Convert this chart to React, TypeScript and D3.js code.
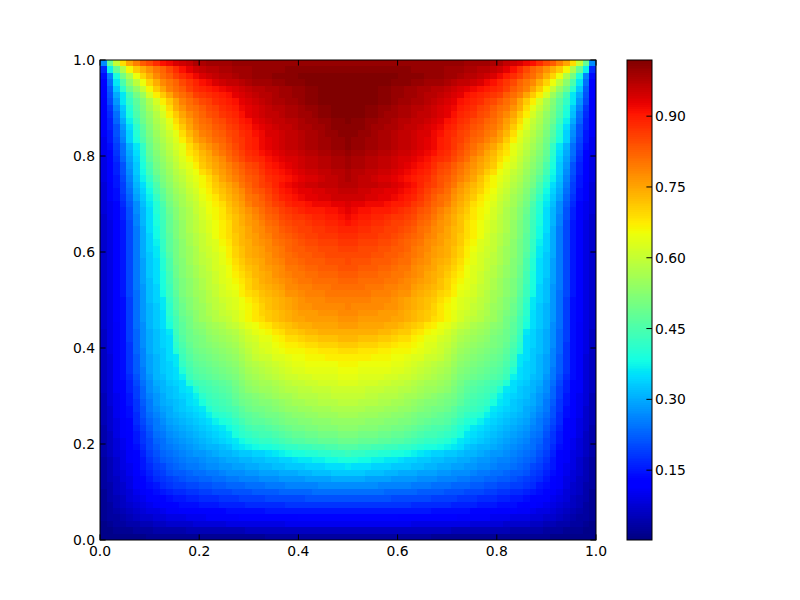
import React from 'react';
import * as d3 from 'd3';

// values, in hundredths. top row first, left half of the
// field only (columns 0..37 of 75), the right half is the same picture mirrored
const halfRows: number[][] = [
  [27,48,60,69,75,79,83,85,88,91,92,94,95,96,98,98,99,99,99,99,100,100,100,100,100,100,100,100,100,100,100,100,100,100,100,100,100,100],
  [17,37,48,57,66,71,74,77,80,82,85,88,91,93,95,96,97,97,98,98,99,99,99,100,100,100,100,100,101,101,101,101,101,101,101,101,101,101],
  [14,26,39,50,57,65,70,74,78,81,83,86,88,90,92,94,95,96,97,97,98,99,99,100,100,100,101,101,101,101,102,102,102,102,102,102,102,102],
  [13,24,36,45,53,59,65,70,74,78,80,82,85,87,89,91,92,94,95,96,96,97,98,99,99,99,100,100,101,101,101,102,102,102,102,102,102,102],
  [12,22,33,41,49,54,60,66,71,75,79,81,83,86,88,89,90,91,92,93,94,95,96,97,97,98,98,99,99,100,100,101,101,102,102,102,102,102],
  [12,21,30,36,44,50,55,62,67,71,75,79,81,83,86,87,88,89,90,91,93,94,95,96,97,97,98,99,99,100,100,101,101,102,102,102,102,102],
  [11,20,28,36,42,47,52,57,62,67,71,75,79,81,83,85,86,88,89,90,91,93,94,95,96,97,98,98,99,99,100,101,101,102,102,102,102,102],
  [11,18,26,33,40,46,51,56,60,64,69,74,77,80,81,83,85,86,88,89,90,92,93,94,95,96,97,97,98,98,99,100,100,101,101,102,102,102],
  [11,17,24,32,39,45,50,54,58,62,67,71,75,78,80,82,84,85,87,88,89,91,93,94,95,96,96,97,98,98,99,99,100,101,101,102,102,102],
  [11,16,23,30,37,43,49,53,57,60,64,69,73,76,79,81,82,84,85,87,88,90,91,93,94,95,96,96,97,97,98,99,99,100,100,101,101,102],
  [11,16,21,28,35,41,47,52,56,59,63,67,71,75,78,80,81,83,84,86,87,89,90,92,93,94,95,96,96,97,98,98,99,99,100,101,101,101],
  [11,15,21,27,34,40,46,51,55,58,61,64,69,73,76,79,80,82,83,85,86,88,89,91,92,94,94,95,96,96,97,98,98,99,100,100,101,101],
  [10,15,20,26,34,39,45,50,54,57,60,63,67,71,75,77,79,81,82,84,86,87,89,90,92,93,94,95,96,96,97,98,98,99,99,100,100,101],
  [10,14,19,24,31,36,42,49,53,56,59,62,64,69,72,75,77,79,81,83,85,87,89,90,92,93,94,95,96,96,97,98,98,99,99,100,100,101],
  [10,13,18,24,30,35,41,48,52,55,58,61,64,68,70,73,75,78,80,82,84,86,88,89,91,92,93,94,95,95,96,97,97,98,98,99,99,100],
  [9,13,17,23,29,34,40,47,51,54,57,60,63,66,69,72,74,76,78,81,83,85,87,88,89,91,92,93,94,94,95,96,96,97,97,98,98,99],
  [9,12,16,21,28,33,39,45,50,53,56,59,62,64,67,71,73,75,77,79,81,83,85,86,88,90,91,92,93,94,95,96,96,97,97,98,98,99],
  [9,12,16,21,27,33,38,44,49,52,55,58,60,63,65,69,71,74,76,78,80,82,84,85,87,89,90,91,92,93,94,95,95,96,96,97,97,98],
  [9,12,15,20,26,32,37,42,47,51,54,57,59,62,64,66,69,72,75,77,79,81,83,84,86,88,89,90,91,92,93,94,94,95,96,96,97,98],
  [8,11,15,19,25,31,35,40,45,50,53,56,58,61,63,66,68,71,73,75,77,80,82,84,86,87,89,91,92,93,94,95,95,96,96,96,97,97],
  [8,11,14,19,24,30,34,38,44,48,52,55,57,60,62,65,67,70,72,74,76,78,81,83,84,86,88,90,91,92,93,93,94,94,95,95,96,96],
  [8,11,14,18,23,29,33,37,42,47,51,54,56,59,61,64,66,68,71,73,75,77,80,81,83,85,87,89,90,91,92,93,93,94,94,95,95,95],
  [8,10,13,17,22,27,32,36,40,45,50,53,56,58,60,63,65,67,69,72,74,76,79,81,82,84,86,87,89,90,90,91,92,92,92,93,93,94],
  [8,10,13,16,21,27,31,35,40,44,49,52,55,57,60,62,65,66,68,71,73,75,77,79,81,83,84,86,87,88,89,90,90,90,91,91,92,93],
  [7,10,13,16,21,26,31,35,39,44,48,52,55,57,59,62,64,66,68,70,72,74,76,78,80,82,83,85,86,87,87,88,89,89,90,90,91,92],
  [7,9,12,15,20,26,31,35,39,43,48,51,54,57,59,61,63,65,67,69,72,74,76,77,79,81,82,84,85,86,86,87,88,88,89,89,90,91],
  [7,9,12,15,20,25,30,35,38,43,48,51,54,57,59,61,63,65,67,69,72,73,75,77,78,80,81,83,84,85,86,86,87,87,88,88,89,89],
  [7,9,12,15,20,25,30,34,38,43,47,51,54,56,58,60,62,65,67,69,71,73,75,76,78,79,81,82,83,84,85,86,86,87,87,87,88,88],
  [7,9,12,15,20,25,30,34,37,42,47,50,53,56,58,60,62,63,66,68,71,73,74,76,77,78,80,81,82,83,84,85,85,86,86,86,87,87],
  [7,9,12,15,20,25,30,34,36,42,47,50,53,55,57,60,61,63,65,67,70,72,74,75,76,78,79,80,82,83,83,84,84,85,85,85,86,86],
  [7,9,12,15,20,25,30,33,36,41,46,50,53,55,57,59,61,62,64,67,70,72,74,75,76,77,79,80,81,82,83,83,84,84,85,85,85,85],
  [7,9,12,15,20,25,29,33,35,40,45,50,52,55,57,59,60,62,64,66,69,71,73,74,75,77,78,79,81,81,82,83,83,83,84,84,84,85],
  [7,9,12,15,20,25,29,33,35,40,45,49,52,54,56,58,60,62,63,65,68,70,72,73,75,76,77,78,80,80,81,82,82,83,83,83,84,84],
  [7,9,12,15,20,25,29,33,35,39,44,49,52,54,56,58,59,61,63,65,67,69,71,73,74,75,77,78,79,80,80,81,81,82,82,82,83,83],
  [7,9,12,15,20,25,29,32,35,39,44,48,51,53,55,57,59,61,63,64,66,68,70,72,74,75,76,77,78,79,80,80,81,81,81,81,82,82],
  [7,9,12,15,20,25,28,32,34,39,43,48,51,53,55,57,59,60,62,64,65,67,70,72,73,74,75,76,78,78,79,79,80,80,80,81,81,81],
  [7,9,12,15,20,24,28,32,34,38,43,47,51,53,55,56,58,60,62,63,64,67,69,70,72,73,74,75,77,77,78,79,79,79,80,80,80,80],
  [7,9,12,14,19,24,28,32,34,36,42,46,50,52,54,56,58,59,61,62,63,65,67,69,71,72,73,74,75,76,77,78,78,78,79,79,79,79],
  [7,9,12,14,19,24,28,31,33,36,41,46,49,52,54,55,57,59,60,62,63,65,66,68,70,72,73,74,75,76,77,77,78,78,78,78,78,79],
  [7,9,12,14,19,24,28,31,33,35,41,45,49,51,53,55,57,58,60,61,62,64,66,68,70,71,72,73,74,75,76,76,76,77,77,77,78,78],
  [7,9,12,14,19,24,28,31,33,35,40,44,48,50,53,55,56,58,59,60,62,64,66,68,69,71,72,73,74,75,75,76,76,76,76,76,77,77],
  [7,9,11,14,19,24,27,31,33,35,39,44,47,50,52,53,55,56,57,59,60,62,64,65,67,68,70,71,72,73,74,74,75,75,75,75,76,76],
  [6,9,11,14,19,23,27,30,32,34,36,43,47,49,51,52,54,55,56,57,58,60,62,64,65,66,68,69,71,71,72,73,73,74,74,74,74,74],
  [6,9,11,14,19,23,27,30,32,34,35,42,46,49,50,51,53,54,55,56,57,59,61,62,64,64,66,67,69,69,70,71,71,72,72,72,73,73],
  [6,9,11,14,18,23,27,30,32,34,35,41,45,48,50,51,52,53,54,55,56,58,60,61,63,63,65,66,67,67,68,69,69,70,70,70,71,71],
  [6,9,11,14,18,23,26,30,32,33,35,40,44,47,49,50,51,52,53,54,55,57,59,61,62,63,64,65,66,66,66,67,67,68,68,68,69,69],
  [6,8,11,14,18,22,26,29,31,33,35,36,43,46,48,49,50,51,52,53,54,56,58,60,61,61,63,63,64,65,65,66,66,66,67,67,67,67],
  [6,8,11,14,18,22,26,29,31,33,34,36,42,45,47,48,49,50,51,52,53,55,57,58,59,60,61,62,63,64,64,65,65,65,65,65,66,66],
  [6,8,11,14,18,22,25,29,31,33,34,35,40,44,46,47,48,49,50,51,52,54,56,57,58,59,60,61,62,63,63,64,64,64,64,64,65,65],
  [6,8,11,14,17,21,25,28,31,32,34,35,37,43,45,46,47,48,49,50,51,53,55,56,57,58,59,60,61,61,62,62,63,63,63,63,64,64],
  [6,8,11,13,16,20,24,27,30,31,33,34,35,40,43,44,45,46,47,48,50,52,54,55,56,56,57,58,59,60,60,61,61,62,62,62,63,63],
  [6,8,11,13,16,19,23,27,29,31,32,33,35,36,40,43,44,45,46,47,49,51,53,54,55,55,56,57,58,58,59,59,60,60,60,61,61,61],
  [5,8,10,13,15,19,23,26,28,30,32,33,34,35,37,41,43,44,45,46,48,50,51,52,53,54,55,56,56,57,58,58,58,59,59,60,60,60],
  [5,8,10,12,15,18,22,25,28,30,31,32,33,35,36,39,42,43,44,45,47,49,50,51,52,52,53,54,55,56,56,57,57,58,58,58,59,59],
  [5,7,10,12,14,18,21,25,27,29,30,32,33,34,35,36,40,42,43,44,45,47,49,50,50,51,52,53,54,54,55,55,56,56,56,57,57,57],
  [5,7,10,12,14,17,21,24,26,28,30,31,32,33,34,35,37,40,41,42,44,46,47,48,49,50,50,51,52,53,53,54,54,55,55,55,56,56],
  [5,7,9,11,13,17,20,23,25,27,29,30,31,32,33,34,35,37,39,40,42,44,46,47,47,48,49,50,51,51,52,52,53,53,53,54,54,54],
  [4,7,9,11,13,16,19,22,25,26,28,29,30,31,32,33,34,35,36,38,40,42,44,45,45,46,47,48,49,50,50,51,51,52,52,52,53,53],
  [4,6,9,11,12,15,18,21,24,25,27,28,29,30,31,32,33,34,35,36,39,41,42,43,44,44,45,46,47,48,48,49,49,50,50,50,51,51],
  [4,6,8,10,12,15,18,20,23,24,26,27,28,29,30,31,32,33,34,35,36,38,40,41,42,42,43,44,45,46,46,47,47,48,48,48,49,49],
  [4,6,8,10,12,14,17,20,22,24,25,26,27,28,29,30,31,31,32,33,35,36,37,38,39,39,40,41,42,42,43,43,44,44,45,45,46,46],
  [4,6,8,9,11,13,16,19,21,23,24,25,26,27,28,28,29,30,31,31,32,33,33,34,34,35,36,37,38,39,39,40,40,41,41,42,42,43],
  [3,5,7,9,11,13,15,18,20,22,23,24,25,26,26,27,28,28,29,30,30,31,31,32,32,33,33,34,34,35,36,36,37,37,38,38,39,39],
  [3,5,7,9,10,12,15,17,19,20,22,23,24,25,25,26,27,27,28,28,29,29,30,30,31,31,32,32,33,33,33,34,34,34,35,35,35,36],
  [3,5,7,8,10,12,14,16,18,19,21,22,22,23,24,24,25,25,26,27,27,27,28,28,29,29,29,30,30,30,31,31,32,32,32,33,33,33],
  [3,5,6,8,9,11,13,15,17,18,19,20,21,22,22,23,23,24,24,25,25,26,26,26,27,27,27,28,28,28,28,29,29,29,29,30,30,30],
  [3,4,6,7,9,11,12,14,15,17,18,19,19,20,20,21,21,22,22,23,23,23,24,24,24,25,25,25,26,26,26,26,26,27,27,27,27,27],
  [2,4,6,7,8,10,11,13,14,15,16,17,17,18,18,19,19,20,20,20,21,21,21,22,22,22,22,23,23,23,23,23,24,24,24,24,24,24],
  [2,4,5,6,8,9,10,12,13,13,14,15,15,16,16,17,17,17,18,18,18,19,19,19,19,20,20,20,20,20,20,21,21,21,21,21,21,21],
  [2,3,5,6,7,8,9,10,11,12,12,13,14,14,14,15,15,15,16,16,16,16,17,17,17,17,17,17,18,18,18,18,18,18,18,18,18,18],
  [2,3,4,5,6,7,8,9,9,10,11,11,12,12,12,13,13,13,13,14,14,14,14,14,14,15,15,15,15,15,15,15,15,15,15,15,15,15],
  [2,3,3,4,5,6,7,7,8,8,9,9,9,10,10,10,11,11,11,11,11,12,12,12,12,12,12,12,12,12,13,13,13,13,13,13,13,13],
  [1,2,3,3,4,4,5,5,6,6,7,7,7,7,8,8,8,8,8,9,9,9,9,9,9,9,9,9,10,10,10,10,10,10,10,10,10,10],
  [1,1,2,2,2,3,3,3,4,4,4,4,4,5,5,5,5,5,5,5,5,5,6,6,6,6,6,6,6,6,6,6,6,6,6,6,6,6],
  [1,1,1,1,1,1,1,2,2,2,2,2,2,2,2,2,2,2,2,2,2,2,2,2,2,3,3,3,3,3,3,3,3,3,3,3,3,3],
];

const xTicks = [0, 0.2, 0.4, 0.6, 0.8, 1];
const yTicks = [0, 0.2, 0.4, 0.6, 0.8, 1];
const barTicks = [0.15, 0.3, 0.45, 0.6, 0.75, 0.9];
const valueRange = [0.002, 1.019];

// jet, as three piecewise channels
const jetR = d3.scaleLinear().domain([0, 0.35, 0.66, 0.89, 1]).range([0, 0, 255, 255, 128]);
const jetG = d3.scaleLinear().domain([0, 0.125, 0.375, 0.64, 0.91, 1]).range([0, 0, 255, 255, 0, 0]);
const jetB = d3.scaleLinear().domain([0, 0.11, 0.34, 0.65, 1]).range([128, 255, 255, 0, 0]);
const norm = d3.scaleLinear().domain(valueRange).range([0, 1]).clamp(true);
const jet = (v: number) => {
  const n = norm(v);
  return `rgb(${Math.round(jetR(n))},${Math.round(jetG(n))},${Math.round(jetB(n))})`;
};

const font = { fontFamily: '"DejaVu Sans"', fontSize: 13.9, fill: '#000' };
const TICK = 5.6;

export default function App() {
  const n = 75;
  const left = 100, right = 596, top = 60, bottom = 540;
  const barLeft = 627, barRight = 652;

  const x = d3.scaleLinear().domain([0, 1]).range([left, right]);
  const y = d3.scaleLinear().domain([0, 1]).range([bottom, top]);
  const col = d3.scaleLinear().domain([0, n]).range([left, right]);
  const row = d3.scaleLinear().domain([0, n]).range([top, bottom]);
  const barY = d3.scaleLinear().domain(valueRange).range([bottom, top]);
  const levels = d3.range(256);
  const level = d3.scaleLinear().domain([0, 256]).range(valueRange);

  return (
    <svg width={800} height={600} style={{ position: 'absolute', left: 0, top: 0, background: '#fff' }}>
      <g shapeRendering="crispEdges">
        {halfRows.map((cells, r) =>
          d3.range(n).map(c => (
            <rect
              key={`${r}-${c}`}
              x={col(c)}
              y={row(r)}
              width={col(c + 1) - col(c)}
              height={row(r + 1) - row(r)}
              fill={jet(cells[Math.min(c, n - 1 - c)] / 100)}
            />
          ))
        )}
        {levels.map(l => (
          <rect
            key={l}
            x={barLeft}
            y={barY(level(l + 1))}
            width={barRight - barLeft}
            height={barY(level(l)) - barY(level(l + 1))}
            fill={jet(level(l + 0.5))}
          />
        ))}
      </g>

      <rect x={left} y={top} width={right - left} height={bottom - top} fill="none" stroke="#000" />
      <rect x={barLeft} y={top} width={barRight - barLeft} height={bottom - top} fill="none" stroke="#000" />

      {xTicks.map(t => (
        <g key={t}>
          <line x1={x(t)} x2={x(t)} y1={bottom} y2={bottom - TICK} stroke="#000" />
          <line x1={x(t)} x2={x(t)} y1={top} y2={top + TICK} stroke="#000" />
          <text x={x(t)} y={556} textAnchor="middle" style={font}>{d3.format('.1f')(t)}</text>
        </g>
      ))}
      {yTicks.map(t => (
        <g key={t}>
          <line x1={left} x2={left + TICK} y1={y(t)} y2={y(t)} stroke="#000" />
          <line x1={right} x2={right - TICK} y1={y(t)} y2={y(t)} stroke="#000" />
          <text x={95} y={y(t) + 5} textAnchor="end" style={font}>{d3.format('.1f')(t)}</text>
        </g>
      ))}
      {barTicks.map(t => (
        <g key={t}>
          <line x1={barRight} x2={barRight - TICK} y1={barY(t)} y2={barY(t)} stroke="#000" />
          <text x={655} y={barY(t) + 5} style={font}>{d3.format('.2f')(t)}</text>
        </g>
      ))}
    </svg>
  );
}
